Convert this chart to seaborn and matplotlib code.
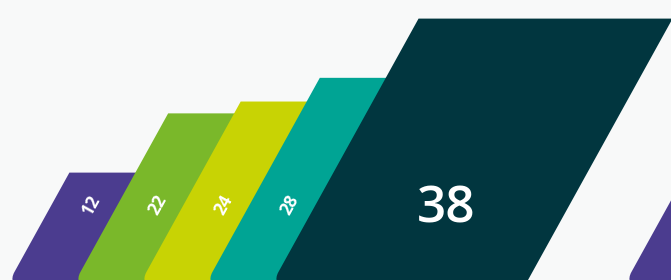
import numpy as np
import pandas as pd
import matplotlib
matplotlib.use("Agg")
import matplotlib.pyplot as plt
import seaborn as sns
from matplotlib.path import Path
from matplotlib.patches import PathPatch
from matplotlib.transforms import Affine2D

# data
categories = ["A", "B", "C", "D", "E", "F"]
values = [12, 22, 24, 28, 38, 18]
colors = ["#4b3c8f", "#7ab82a", "#c8d304", "#00a494", "#01363f", "#4b3c8f"]
highlight = 4  # the big card with the horizontal label

# layout (pixels at dpi 100)
BG = "#f8f9f9"
SLOPE = 0.553      # horizontal run of the slanted edges per vertical pixel
STEP = 66          # distance between cards
BAR_W = 254        # card width
GAP = 99           # empty space after the highlighted card
LEFT = 10
RADIUS = 14
WIDTH_PX = 671

sns.set_theme(style="white")
plt.rcParams["font.family"] = ["Open Sans", "DejaVu Sans"]

fig = plt.figure(figsize=(6.71, 2.80), dpi=100)
fig.patch.set_facecolor(BG)
ax = fig.add_axes([0, 0, 1, 1])
ax.set_facecolor(BG)

lefts = [LEFT + i * STEP for i in range(highlight + 1)]
for i in range(highlight + 1, len(values)):
    lefts.append(lefts[highlight] + BAR_W + GAP + (i - highlight - 1) * STEP)
df = pd.DataFrame({"x": np.array(lefts) + BAR_W / 2, "value": values, "cat": categories})

sns.barplot(data=df, x="x", y="value", hue="cat", palette=dict(zip(categories, colors)),
            native_scale=True, width=BAR_W / STEP, dodge=False, legend=False,
            saturation=1, ax=ax)
ax.set_xlim(0, WIDTH_PX)
ax.set_ylim(-6.13, 41.14)
ax.set_axis_off()

skew = Affine2D().skew(np.arctan(SLOPE), 0)


def card_path(x0, x1, y0, y1, r):
    # sharp corners except the bottom-left one
    k = 0.5523 * r
    verts = [(x0, y1), (x1, y1), (x1, y0), (x0 + r, y0),
             (x0 + r - k, y0), (x0, y0 + r - k), (x0, y0 + r),
             (x0, y1)]
    codes = [Path.MOVETO, Path.LINETO, Path.LINETO, Path.LINETO,
             Path.CURVE4, Path.CURVE4, Path.CURVE4,
             Path.CLOSEPOLY]
    return Path(verts, codes)


rects = list(ax.patches)
for p in rects:
    x0, x1 = p.get_x(), p.get_x() + p.get_width()
    (dx0, dtop), (dx1, _) = ax.transData.transform([(x0, p.get_height()), (x1, 0)])
    face = p.get_facecolor()
    p.remove()
    ax.add_patch(PathPatch(card_path(dx0, dx1, -6, dtop, RADIUS), transform=skew,
                           facecolor=face, edgecolor="none", clip_on=False))

# labels (only where they fall inside the picture)
label_y = 6.6
for i, v in enumerate(values):
    if i == highlight:
        lx, ly = lefts[i] + BAR_W / 2 + 6, label_y - 0.9
    else:
        lx, ly = lefts[i] + 0.6 * STEP, label_y
    px, _ = (ax.transData + skew).transform((lx, ly))
    if px > WIDTH_PX - 20:
        continue
    if i == highlight:
        ax.text(lx, ly, str(v), transform=ax.transData + skew,
                ha="center", va="center", color="white", fontsize=37, fontweight="semibold")
    else:
        ax.text(lx, ly, str(v), transform=ax.transData + skew,
                ha="center", va="center", color="white", fontsize=12.5, fontweight="bold",
                rotation=61, rotation_mode="anchor")

fig.savefig("out.png", dpi=100, facecolor=BG)
